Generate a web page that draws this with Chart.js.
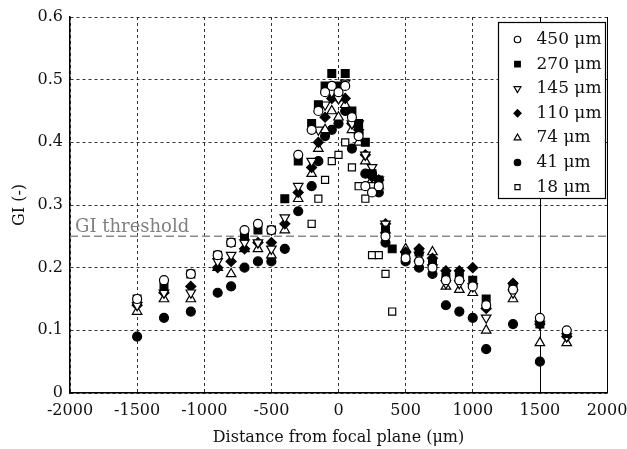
<!DOCTYPE html>
<html>
<head>
<meta charset="utf-8">
<script src="https://cdn.jsdelivr.net/npm/chart.js"></script>
<style>
  html, body { margin: 0; padding: 0; background: #fff; }
  .chart-wrap { position: relative; width: 627px; height: 449px; }
</style>
</head>
<body>
<div class="chart-wrap"><canvas class="js-gi"></canvas></div>
<script>
// distance from focal plane (µm) at which the GI was measured
const distances = [-1500, -1300, -1100, -900, -800, -700, -600, -500, -400, -300, -200, -150, -100, -50, 0, 50, 100, 150, 200, 250, 300, 350, 400, 500, 600, 700, 800, 900, 1000, 1100, 1300, 1500, 1700];

// GI per particle size (null = no measurement)
const gi450 = [0.15, 0.18, 0.19, 0.22, 0.24, 0.26, 0.27, 0.26, null, 0.38, 0.42, 0.45, 0.48, 0.49, 0.48, 0.49, 0.44, 0.41, 0.33, 0.32, 0.33, 0.25, null, 0.215, 0.21, 0.20, 0.18, 0.18, 0.17, 0.14, 0.165, 0.12, 0.10];
const gi270 = [0.15, 0.17, 0.19, 0.22, 0.24, 0.25, 0.26, 0.26, 0.31, 0.37, 0.43, 0.46, 0.49, 0.51, 0.49, 0.51, 0.45, 0.43, 0.40, 0.35, 0.34, 0.26, 0.23, 0.22, 0.225, 0.21, 0.185, 0.19, 0.18, 0.15, 0.17, 0.11, 0.095];
const gi145 = [0.14, 0.16, 0.16, 0.21, 0.22, 0.24, 0.24, 0.23, 0.28, 0.33, 0.37, 0.42, 0.46, 0.48, 0.47, 0.495, 0.43, 0.43, 0.38, 0.36, 0.34, 0.27, null, 0.22, 0.22, 0.20, 0.175, 0.175, 0.17, 0.12, 0.16, 0.11, 0.09];
const gi110 = [0.14, 0.16, 0.17, 0.20, 0.21, 0.23, 0.24, 0.24, 0.27, 0.32, 0.36, 0.40, 0.44, 0.47, 0.47, 0.47, 0.43, 0.42, 0.38, 0.345, 0.34, 0.27, null, 0.225, 0.23, 0.215, 0.195, 0.195, 0.20, 0.135, 0.175, 0.11, 0.09];
const gi74 = [0.13, 0.15, 0.15, 0.20, 0.19, 0.23, 0.23, 0.22, 0.26, 0.31, 0.35, 0.39, 0.42, 0.45, 0.44, 0.46, 0.42, 0.40, 0.37, 0.34, 0.33, 0.26, null, 0.23, 0.215, 0.225, 0.17, 0.165, 0.16, 0.10, 0.15, 0.08, 0.08];
const gi41 = [0.09, 0.12, 0.13, 0.16, 0.17, 0.20, 0.21, 0.21, 0.23, 0.29, 0.33, 0.37, 0.41, 0.42, 0.43, 0.45, 0.39, 0.415, 0.35, 0.35, 0.32, 0.24, null, 0.21, 0.20, 0.19, 0.14, 0.13, 0.12, 0.07, 0.11, 0.05, null];
const gi18 = [null, null, null, null, null, null, null, null, null, null, 0.27, 0.31, 0.34, 0.37, 0.38, 0.40, 0.36, 0.33, 0.31, 0.22, 0.22, 0.19, 0.13, null, null, null, null, null, null, null, null, null, null];

const sizeLabels = ["450 μm", "270 μm", "145 μm", "110 μm", "74 μm", "41 μm", "18 μm"];
const yTicks = [0, 0.1, 0.2, 0.3, 0.4, 0.5, 0.6];
const xTicks = [-2000, -1500, -1000, -500, 0, 500, 1000, 1500, 2000];
const threshold = 0.25;

const FONT = '"DejaVu Serif", "Liberation Serif", serif';

// marker look per series: open markers get a white fill
const markers = [
  { style: "circle", rotation: 0, radius: 4.5, filled: false },
  { style: "rect", rotation: 0, radius: 5.5, filled: true },
  { style: "triangle", rotation: 180, radius: 5.5, filled: false },
  { style: "rectRot", rotation: 0, radius: 5, filled: true },
  { style: "triangle", rotation: 0, radius: 5.5, filled: false },
  { style: "circle", rotation: 0, radius: 4.5, filled: true },
  { style: "rect", rotation: 0, radius: 5, filled: false },
];

const toPoints = function (values) {
  return distances.map((d, i) => ({ x: d, y: values[i] })).filter((p) => p.y !== null);
};

const series = [gi450, gi270, gi145, gi110, gi74, gi41, gi18];

// threshold line, solid lines at 1500 / right edge, and the boxed legend
const extras = {
  id: "extras",
  beforeDatasetsDraw(chart) {
    const { ctx, chartArea: a, scales } = chart;
    const x = scales.x;
    const y = scales.y;
    ctx.save();
    const ty = y.getPixelForValue(threshold);
    ctx.strokeStyle = "#8a8a8a";
    ctx.lineWidth = 1.5;
    ctx.setLineDash([8, 4]);
    ctx.beginPath();
    ctx.moveTo(a.left, ty);
    ctx.lineTo(a.right, ty);
    ctx.stroke();
    ctx.setLineDash([]);
    ctx.fillStyle = "#808080";
    ctx.font = "18px " + FONT;
    ctx.textBaseline = "alphabetic";
    ctx.fillText("GI threshold", a.left + 5, ty - 4);

    ctx.strokeStyle = "#000";
    ctx.lineWidth = 1;
    [1500, 2000].forEach((v) => {
      const px = Math.round(x.getPixelForValue(v)) + 0.5;
      ctx.beginPath();
      ctx.moveTo(px, a.top);
      ctx.lineTo(px, a.bottom);
      ctx.stroke();
    });
    ctx.restore();
  },
  afterDraw(chart) {
    const { ctx, chartArea: a } = chart;
    const boxW = 107;
    const boxH = 176;
    const left = a.right - boxW - 1.5;
    const top = a.top + 5.5;
    ctx.save();
    ctx.fillStyle = "#fff";
    ctx.strokeStyle = "#000";
    ctx.lineWidth = 1.2;
    ctx.fillRect(left, top, boxW, boxH);
    ctx.strokeRect(left, top, boxW, boxH);
    ctx.font = "17px " + FONT;
    ctx.textBaseline = "middle";
    chart.data.datasets.forEach((ds, i) => {
      const m = markers[i];
      const cy = top + 17 + i * 24.6;
      ctx.fillStyle = m.filled ? "#000" : "#fff";
      ctx.strokeStyle = "#000";
      ctx.lineWidth = 1.2;
      Chart.helpers.drawPoint(ctx, { pointStyle: m.style, rotation: m.rotation, radius: m.radius * 0.72, borderWidth: 1.2 }, left + 19, cy);
      ctx.fillStyle = "#111";
      ctx.fillText(ds.label, left + 38, cy);
    });
    ctx.restore();
  },
};

const chartGi = function () {
  const canvas = document.querySelector(".js-gi");
  new Chart(canvas, {
    type: "scatter",
    data: {
      datasets: series.map((values, i) => ({
        label: sizeLabels[i],
        data: toPoints(values),
        pointStyle: markers[i].style,
        rotation: markers[i].rotation,
        pointRadius: markers[i].radius,
        pointBackgroundColor: markers[i].filled ? "#000" : "#fff",
        pointBorderColor: "#000",
        pointBorderWidth: 1.2,
      })),
    },
    options: {
      responsive: true,
      maintainAspectRatio: false,
      animation: false,
      events: [],
      layout: { padding: { left: 0, right: 20, top: 17, bottom: 0 } },
      plugins: {
        legend: { display: false },
        tooltip: { enabled: false },
      },
      scales: {
        x: {
          type: "linear",
          min: xTicks[0],
          max: xTicks[xTicks.length - 1],
          afterFit: (s) => {
            s.height = 56;
            s.paddingLeft = 0;
            s.paddingRight = 0;
          },
          afterBuildTicks: (s) => { s.ticks = xTicks.map((v) => ({ value: v })); },
          ticks: {
            callback: (v) => String(v),
            font: { family: FONT, size: 16 },
            color: "#111",
            padding: 8,
            maxRotation: 0,
          },
          grid: {
            drawTicks: false,
            color: (c) => (c.tick && c.tick.value >= 1500 ? "rgba(0,0,0,0)" : "#333"),
            lineWidth: 1,
          },
          border: { display: true, color: "#000", width: 1.5, dash: [3, 3] },
          title: {
            display: true,
            text: "Distance from focal plane (μm)",
            font: { family: FONT, size: 16 },
            color: "#111",
            padding: { top: 0, bottom: 2 },
          },
        },
        y: {
          min: yTicks[0],
          max: yTicks[yTicks.length - 1],
          afterFit: (s) => {
            s.width = 70;
            s.paddingTop = 0;
            s.paddingBottom = 0;
          },
          afterBuildTicks: (s) => { s.ticks = yTicks.map((v) => ({ value: v })); },
          ticks: {
            callback: (v) => String(v),
            font: { family: FONT, size: 16 },
            color: "#111",
            padding: 7,
          },
          grid: {
            drawTicks: false,
            color: "#333",
            lineWidth: 1,
          },
          border: { display: true, color: "#000", width: 1.5, dash: [3, 3] },
          title: {
            display: true,
            text: "GI (-)",
            font: { family: FONT, size: 16 },
            color: "#111",
            padding: { top: 10, bottom: 0 },
          },
        },
      },
    },
    plugins: [extras],
  });
};

document.addEventListener("DOMContentLoaded", chartGi);
</script>
</body>
</html>
